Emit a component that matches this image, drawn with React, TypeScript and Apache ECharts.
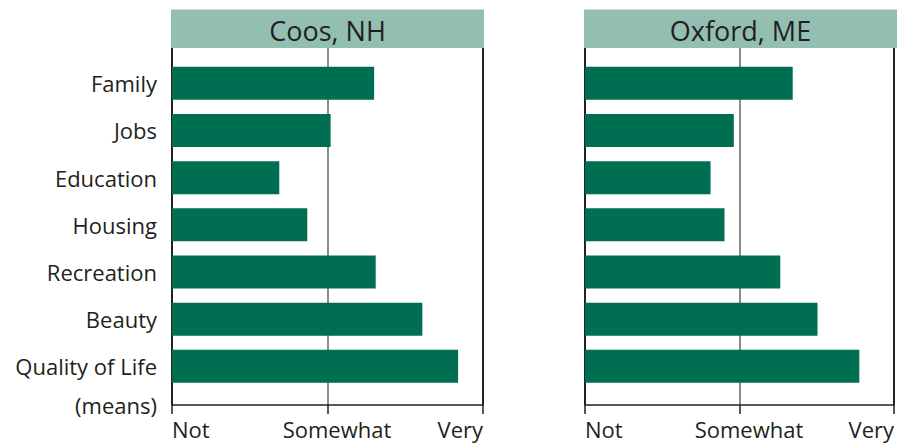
import React, { useEffect, useRef } from "react";
import * as echarts from "echarts";

const categories = ["Family", "Jobs", "Education", "Housing", "Recreation", "Beauty", "Quality of Life"];
const coosValues = [2.3, 2.02, 1.69, 1.87, 2.31, 2.61, 2.84];
const oxfordValues = [2.34, 1.96, 1.81, 1.9, 2.26, 2.5, 2.77];
const tickValues = [1, 2, 3];
const tickLabels = ["Not", "Somewhat", "Very"];
const panelTitles = ["Coos, NH", "Oxford, ME"];
const unitLabel = "(means)";

const FONT = "Open Sans";
const TEXT = "#231f20";
const BAR = "#006e50";
const HEAD = "#93bfb2";

export default function App() {
  const ref = useRef<HTMLDivElement>(null);
  useEffect(() => {
    if (!ref.current) return;
    const chart = echarts.init(ref.current, null, { renderer: "svg" });
    const W = 897;
    const panels = [
      { left: 172, right: W - 483 },
      { left: 585, right: W - 895 },
    ];
    const grid: any[] = [];
    const xAxis: any[] = [];
    const yAxis: any[] = [];
    const series: any[] = [];
    const data = [coosValues, oxfordValues];
    panels.forEach((p, i) => {
      grid.push({ left: p.left, right: p.right, top: 48, bottom: 38 });
      grid.push({ left: p.left, right: p.right, top: 59.7, bottom: 53.1 });
      const fg = i * 2;
      const bg = i * 2 + 1;
      xAxis.push({
        gridIndex: fg,
        type: "value",
        min: 1,
        max: 3,
        interval: 1,
        axisLine: { show: true, lineStyle: { color: "#222", width: 1.5 } },
        axisTick: { show: true, length: 9, lineStyle: { color: "#222", width: 1.5 } },
        axisLabel: {
          show: true,
          margin: 13,
          fontFamily: FONT,
          fontSize: 22,
          color: TEXT,
          alignMinLabel: "left",
          alignMaxLabel: "right",
          formatter: (v: number) => {
            const idx = tickValues.indexOf(v);
            if (idx < 0) return "";
            return idx === 1 ? "{m|" + tickLabels[idx] + "}" : tickLabels[idx];
          },
          rich: {
            m: { fontFamily: FONT, fontSize: 22, color: TEXT, padding: [0, 0, 0, 19] },
          },
        },
        splitLine: { show: true, lineStyle: { color: ["#222", "#8c8c8c", "#222"], width: 2 } },
      });
      yAxis.push({
        gridIndex: fg,
        type: "value",
        min: 0,
        max: 1,
        axisLine: { show: false },
        axisTick: { show: false },
        axisLabel: { show: false },
        splitLine: { show: false },
      });
      xAxis.push({
        gridIndex: bg,
        type: "value",
        min: 1,
        max: 3,
        show: false,
        splitLine: { show: false },
      });
      yAxis.push({
        gridIndex: bg,
        type: "category",
        inverse: true,
        data: categories,
        axisLine: { show: false },
        axisTick: { show: false },
        axisLabel: {
          show: i === 0,
          margin: 15,
          fontFamily: FONT,
          fontSize: 22,
          color: TEXT,
          padding: [0, 0, 4, 0],
        },
        splitLine: { show: false },
      });
      series.push({
        type: "bar",
        xAxisIndex: bg,
        yAxisIndex: bg,
        data: data[i],
        barWidth: 33,
        clip: true,
        itemStyle: { color: BAR },
        silent: true,
      });
    });

    const graphic: any[] = [];
    panels.forEach((p, i) => {
      const x0 = p.left - 1;
      const x1 = i === 0 ? 484 : 897;
      graphic.push({
        type: "rect",
        shape: { x: x0, y: 9.5, width: x1 - x0, height: 38.5 },
        style: { fill: HEAD },
        silent: true,
      });
      graphic.push({
        type: "text",
        x: (x0 + x1) / 2,
        y: 30,
        style: {
          text: panelTitles[i],
          fontFamily: FONT,
          fontSize: 27,
          fill: TEXT,
          align: "center",
          verticalAlign: "middle",
        },
        silent: true,
      });
    });
    graphic.push({
      type: "text",
      x: 157,
      y: 405,
      style: {
        text: unitLabel,
        fontFamily: FONT,
        fontSize: 22,
        fill: TEXT,
        align: "right",
        verticalAlign: "middle",
      },
      silent: true,
    });

    chart.setOption({
      animation: false,
      backgroundColor: "#ffffff",
      grid,
      xAxis,
      yAxis,
      series,
      graphic,
    });
    return () => chart.dispose();
  }, []);
  return (
    <div
      ref={ref}
      style={{ position: "fixed", left: 0, top: 0, width: 897, height: 443 }}
    />
  );
}
